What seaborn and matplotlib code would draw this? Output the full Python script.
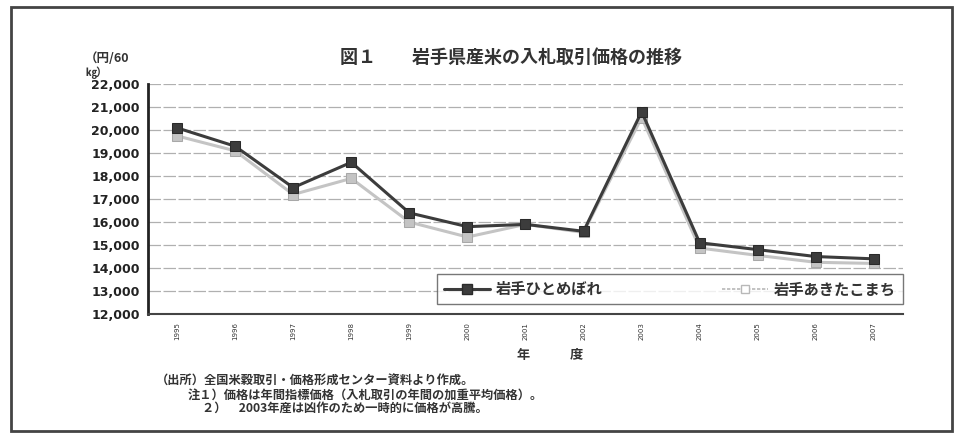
import matplotlib
matplotlib.use("Agg")
import matplotlib.pyplot as plt
import matplotlib.patches as mpatches
import pandas as pd
import seaborn as sns

sns.set_theme(style="white")
plt.rcParams["font.family"] = ["Noto Sans CJK JP", "DejaVu Sans"]

years = [1995, 1996, 1997, 1998, 1999, 2000, 2001, 2002, 2003, 2004, 2005, 2006, 2007]
hitomebore = [20100, 19300, 17500, 18600, 16400, 15800, 15900, 15600, 20800, 15100, 14800, 14500, 14400]
akitakomachi = [19750, 19100, 17200, 17900, 16000, 15350, 15900, 15550, 20550, 14870, 14550, 14250, 14200]
series_names = ["岩手ひとめぼれ", "岩手あきたこまち"]
y_ticks = list(range(12000, 22001, 1000))

df = pd.concat([
    pd.DataFrame({"年度": years, "価格": hitomebore, "品種": series_names[0]}),
    pd.DataFrame({"年度": years, "価格": akitakomachi, "品種": series_names[1]}),
])

fig = plt.figure(figsize=(9.55, 4.34), dpi=100)
ax = fig.add_axes([0.155, 0.2765, 0.7905, 0.5295])

palette = {series_names[0]: "#3c3c3c", series_names[1]: "#c4c4c4"}
# light series first so the dark one sits on top
for name, z in [(series_names[1], 2), (series_names[0], 3)]:
    sub = df[df["品種"] == name]
    sns.lineplot(data=sub, x="年度", y="価格", ax=ax, color=palette[name],
                 linewidth=2.2, marker="s", markersize=7,
                 markeredgecolor="#2a2a2a" if z == 3 else "#a8a8a8",
                 markerfacecolor=palette[name], label=name, zorder=z,
                 legend=False)

ax.set_ylim(12000, 22000)
ax.set_xlim(years[0] - 0.5, years[-1] + 0.5)
ax.set_yticks(y_ticks)
ax.set_yticklabels([f"{v:,}" for v in y_ticks], fontsize=9, fontweight="bold",
                   family=["DejaVu Sans"], color="#222")
ax.set_xticks(years)
ax.set_xticklabels([str(y) for y in years], rotation=90, fontsize=5,
                   family=["DejaVu Sans"], color="#333")
ax.tick_params(axis="both", length=0, pad=6)
ax.set_xlabel("")
ax.set_ylabel("")
ax.grid(axis="y", color="#b0b0b0", linewidth=0.9, linestyle=(0, (10, 2)))
for side in ["top", "right"]:
    ax.spines[side].set_visible(False)
ax.spines["left"].set_color("#222")
ax.spines["left"].set_linewidth(2.0)
ax.spines["bottom"].set_color("#444")
ax.spines["bottom"].set_linewidth(1.5)

handles = [
    plt.Line2D([], [], color="#3c3c3c", linewidth=2.2, marker="s", markersize=7,
               markeredgecolor="#2a2a2a"),
    plt.Line2D([], [], color="#b8b8b8", linewidth=1.2, linestyle=(0, (2, 1)),
               marker="s", markersize=6, markerfacecolor="white",
               markeredgecolor="#b8b8b8"),
]
leg = ax.legend(handles, series_names, loc="lower left",
                bbox_to_anchor=(0.383, 0.043, 0.617, 0.144), mode="expand",
                ncol=2, fontsize=11, frameon=True, fancybox=False,
                handlelength=3.0, handletextpad=0.4, borderpad=0.45,
                columnspacing=1.5, borderaxespad=0)
leg.get_frame().set_edgecolor("#555")
leg.get_frame().set_linewidth(1.0)
for t in leg.get_texts():
    t.set_fontweight("bold")
    t.set_color("#333")

# chart title and unit
fig.text(0.535, 0.868, "図１　　岩手県産米の入札取引価格の推移", ha="center",
         va="center", fontsize=13, fontweight="bold", color="#333")
fig.text(0.089, 0.866, "（円/60", ha="left", va="center", fontsize=9,
         fontweight="bold", color="#333")
fig.text(0.089, 0.834, "㎏）", ha="left", va="center", fontsize=8,
         fontweight="bold", color="#333")

# axis title
fig.text(0.576, 0.182, "年　　　度", ha="center", va="center", fontsize=9.5,
         fontweight="bold", color="#333")

# notes
notes = [
    (0.163, "（出所）全国米穀取引・価格形成センター資料より作成。"),
    (0.196, "注１）価格は年間指標価格（入札取引の年間の加重平均価格）。"),
    (0.212, "２）　2003年産は凶作のため一時的に価格が高騰。"),
]
for i, (x, line) in enumerate(notes):
    fig.text(x, 0.121 - i * 0.031, line, ha="left", va="center", fontsize=8.8,
             fontweight="bold", color="#333")

# outer frame around the whole chart
frame = mpatches.Rectangle((0.011, 0.008), 0.986, 0.976, transform=fig.transFigure,
                           fill=False, edgecolor="#444", linewidth=2.0)
fig.patches.append(frame)

fig.savefig("out.png", dpi=100)
